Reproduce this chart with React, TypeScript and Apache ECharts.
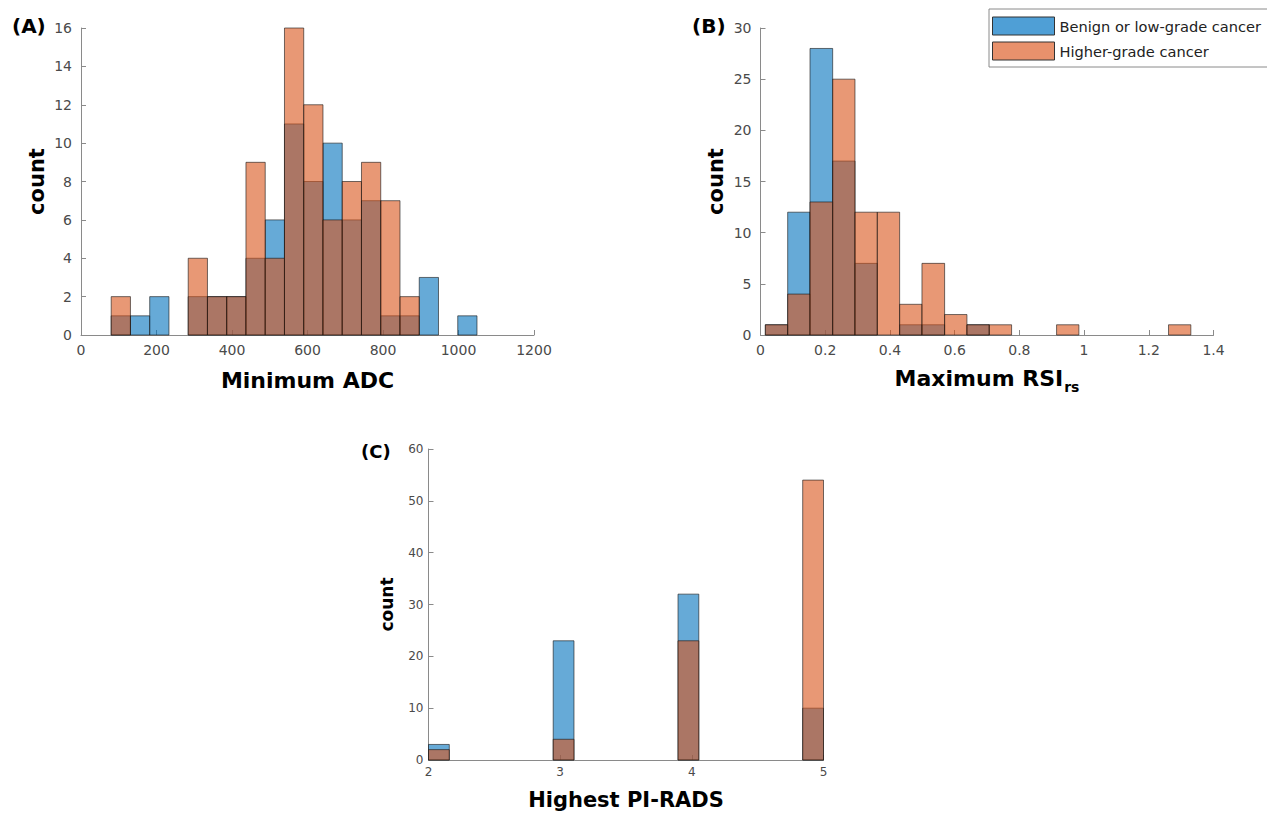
import React, { useEffect, useRef } from "react";
import * as echarts from "echarts";

// ---- Data ----
const seriesNames = ["Benign or low-grade cancer", "Higher-grade cancer"];

// (A) Minimum ADC histogram
const adcEdges = [80, 131, 182, 233, 284, 335, 386, 437, 488, 539, 590, 641, 692, 743, 794, 845, 896, 947, 998, 1049];
const adcBenign = [1, 1, 2, 0, 2, 2, 2, 4, 6, 11, 8, 10, 6, 7, 1, 1, 3, 0, 1];
const adcHigher = [2, 0, 0, 0, 4, 2, 2, 9, 4, 16, 12, 6, 8, 9, 7, 2, 0, 0, 0];

// (B) Maximum RSIrs histogram
const rsiEdges = [0.015, 0.084, 0.153, 0.223, 0.292, 0.361, 0.43, 0.499, 0.569, 0.638, 0.707, 0.776, 0.845, 0.915, 0.984, 1.053, 1.122, 1.191, 1.261, 1.33];
const rsiBenign = [1, 12, 28, 17, 7, 0, 1, 1, 0, 1, 0, 0, 0, 0, 0, 0, 0, 0, 0];
const rsiHigher = [1, 4, 13, 25, 12, 12, 3, 7, 2, 1, 1, 0, 0, 1, 0, 0, 0, 0, 1];

// (C) Highest PI-RADS histogram (bins of width 3/19 between 2 and 5)
const piradsBinStart = [2.0, 2.947, 3.895, 4.842];
const piradsBinEnd = [2.158, 3.105, 4.053, 5.0];
const piradsBenign = [3, 23, 32, 10];
const piradsHigher = [2, 4, 23, 54];

const FONT = "'DejaVu Sans', sans-serif";
const BLUE = "rgba(0,114,189,0.6)";
const ORANGE = "rgba(217,83,25,0.6)";
const EDGE = "rgba(20,20,20,0.75)";

function fromEdges(edges: number[], counts: number[]) {
  return counts.map((c, i) => [edges[i], edges[i + 1], c]).filter((d) => d[2] > 0);
}
function fromBins(starts: number[], ends: number[], counts: number[]) {
  return counts.map((c, i) => [starts[i], ends[i], c]).filter((d) => d[2] > 0);
}

function makeRender(fill: string) {
  return (params: any, api: any) => {
    const x0 = api.value(0);
    const x1 = api.value(1);
    const y = api.value(2);
    const a = api.coord([x0, y]);
    const b = api.coord([x1, 0]);
    return {
      type: "rect",
      shape: { x: a[0], y: a[1], width: b[0] - a[0], height: b[1] - a[1] },
      style: { fill, stroke: EDGE, lineWidth: 0.8 },
    };
  };
}

const plain = (v: number) => String(Math.round(v * 1000) / 1000);

function axisCommon(fontSize: number, margin: number) {
  return {
    axisLine: { show: true, onZero: false, lineStyle: { color: "#8a8a8a", width: 1 } },
    axisTick: { show: true, inside: true, length: 5, lineStyle: { color: "#8a8a8a" } },
    axisLabel: { color: "#4a4a4a", fontSize, fontFamily: FONT, margin, formatter: plain },
    splitLine: { show: false },
  };
}

const nameStyle = (size: number) => ({
  fontFamily: FONT,
  fontWeight: "bold" as const,
  fontSize: size,
  color: "#000",
});

export default function App() {
  const ref = useRef<HTMLDivElement>(null);
  useEffect(() => {
    if (!ref.current) return;
    const chart = echarts.init(ref.current, undefined, { renderer: "svg" });
    const option: any = {
      animation: false,
      backgroundColor: "#ffffff",
      grid: [
        { left: 81, top: 28, width: 453, height: 307 },
        { left: 760.5, top: 28, width: 453, height: 307 },
        { left: 428.5, top: 449, width: 395, height: 311 },
      ],
      xAxis: [
        {
          type: "value", gridIndex: 0, min: 0, max: 1200, interval: 200,
          name: "Minimum ADC", nameLocation: "middle", nameGap: 34,
          nameTextStyle: nameStyle(22),
          ...axisCommon(14, 8),
        },
        {
          type: "value", gridIndex: 1, min: 0, max: 1.4, interval: 0.2,
          name: "{a|Maximum RSI}{b|rs}", nameLocation: "middle", nameGap: 32,
          nameTextStyle: {
            ...nameStyle(22),
            rich: {
              a: { fontFamily: FONT, fontWeight: "bold", fontSize: 22, color: "#000" },
              b: { fontFamily: FONT, fontWeight: "bold", fontSize: 14, color: "#000", verticalAlign: "bottom", padding: [0, 0, -5, 1] },
            },
          },
          ...axisCommon(14, 8),
        },
        {
          type: "value", gridIndex: 2, min: 2, max: 5, interval: 1,
          name: "Highest PI-RADS", nameLocation: "middle", nameGap: 29,
          nameTextStyle: nameStyle(21),
          ...axisCommon(12, 6),
        },
      ],
      yAxis: [
        {
          type: "value", gridIndex: 0, min: 0, max: 16, interval: 2,
          name: "count", nameLocation: "middle", nameGap: 34, nameRotate: 90,
          nameTextStyle: nameStyle(21),
          ...axisCommon(14, 9),
        },
        {
          type: "value", gridIndex: 1, min: 0, max: 30, interval: 5,
          name: "count", nameLocation: "middle", nameGap: 34, nameRotate: 90,
          nameTextStyle: nameStyle(21),
          ...axisCommon(14, 9),
        },
        {
          type: "value", gridIndex: 2, min: 0, max: 60, interval: 10,
          name: "count", nameLocation: "middle", nameGap: 33, nameRotate: 90,
          nameTextStyle: nameStyle(17),
          ...axisCommon(12, 5),
        },
      ],
      legend: {
        orient: "vertical",
        left: 989,
        top: 9,
        padding: [7.5, 20, 6.5, 3],
        itemWidth: 62,
        itemHeight: 18,
        itemGap: 6,
        borderColor: "#8a8a8a",
        borderWidth: 1,
        textStyle: { fontFamily: FONT, fontSize: 14.6, color: "#222" },
        data: [
          { name: seriesNames[0], icon: "rect", itemStyle: { color: "#4f9fd6", borderColor: "#333", borderWidth: 1 } },
          { name: seriesNames[1], icon: "rect", itemStyle: { color: "#e8916c", borderColor: "#333", borderWidth: 1 } },
        ],
      },
      graphic: [
        { type: "text", left: 12, top: 16, style: { text: "(A)", font: `bold 20px ${FONT}`, fill: "#000" } },
        { type: "text", left: 692, top: 16, style: { text: "(B)", font: `bold 20px ${FONT}`, fill: "#000" } },
        { type: "text", left: 361, top: 442, style: { text: "(C)", font: `bold 18px ${FONT}`, fill: "#000" } },
      ],
      series: [
        { type: "custom", name: seriesNames[0], xAxisIndex: 0, yAxisIndex: 0, itemStyle: { color: BLUE }, renderItem: makeRender(BLUE), encode: { x: [0, 1], y: 2 }, data: fromEdges(adcEdges, adcBenign) },
        { type: "custom", name: seriesNames[1], xAxisIndex: 0, yAxisIndex: 0, itemStyle: { color: ORANGE }, renderItem: makeRender(ORANGE), encode: { x: [0, 1], y: 2 }, data: fromEdges(adcEdges, adcHigher) },
        { type: "custom", name: seriesNames[0], xAxisIndex: 1, yAxisIndex: 1, itemStyle: { color: BLUE }, renderItem: makeRender(BLUE), encode: { x: [0, 1], y: 2 }, data: fromEdges(rsiEdges, rsiBenign) },
        { type: "custom", name: seriesNames[1], xAxisIndex: 1, yAxisIndex: 1, itemStyle: { color: ORANGE }, renderItem: makeRender(ORANGE), encode: { x: [0, 1], y: 2 }, data: fromEdges(rsiEdges, rsiHigher) },
        { type: "custom", name: seriesNames[0], xAxisIndex: 2, yAxisIndex: 2, itemStyle: { color: BLUE }, renderItem: makeRender(BLUE), encode: { x: [0, 1], y: 2 }, data: fromBins(piradsBinStart, piradsBinEnd, piradsBenign) },
        { type: "custom", name: seriesNames[1], xAxisIndex: 2, yAxisIndex: 2, itemStyle: { color: ORANGE }, renderItem: makeRender(ORANGE), encode: { x: [0, 1], y: 2 }, data: fromBins(piradsBinStart, piradsBinEnd, piradsHigher) },
      ],
    };
    chart.setOption(option);
    return () => chart.dispose();
  }, []);
  return (
    <div
      ref={ref}
      style={{ position: "fixed", left: 0, top: 0, width: 1267, height: 813, background: "#fff" }}
    />
  );
}
